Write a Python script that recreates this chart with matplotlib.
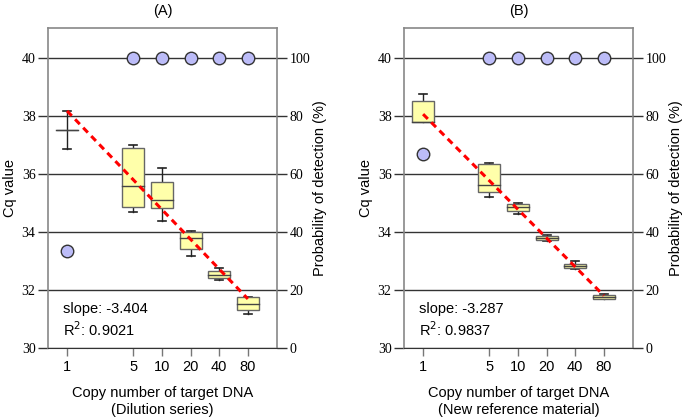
import matplotlib.pyplot as plt
from matplotlib.patches import Rectangle
from matplotlib.ticker import NullLocator

copies = [1, 5, 10, 20, 40, 80]
copy_labels = ["1", "5", "10", "20", "40", "80"]

# (A) dilution series: box stats per copy number
a_whislo = [36.86, 34.68, 34.39, 33.17, 32.34, 31.17]
a_q1 = [37.52, 34.85, 34.83, 33.40, 32.40, 31.31]
a_med = [37.52, 35.60, 35.10, 33.80, 32.52, 31.53]
a_q3 = [37.52, 36.89, 35.71, 33.99, 32.67, 31.75]
a_whishi = [38.18, 36.98, 36.20, 34.04, 32.77, 31.77]
a_detect = [33.3, 100, 100, 100, 100, 100]
a_slope, a_intercept, a_r2 = -3.404, 38.17, 0.9021

# (B) new reference material
b_whislo = [37.78, 35.22, 34.62, 33.70, 32.71, 31.68]
b_q1 = [37.78, 35.39, 34.73, 33.72, 32.75, 31.70]
b_med = [37.80, 35.61, 34.87, 33.80, 32.82, 31.77]
b_q3 = [38.53, 36.33, 34.97, 33.86, 32.89, 31.82]
b_whishi = [38.76, 36.37, 34.99, 33.88, 33.00, 31.85]
b_detect = [66.7, 100, 100, 100, 100, 100]
b_slope, b_intercept, b_r2 = -3.287, 38.06, 0.9837

cq_ticks = [30, 32, 34, 36, 38, 40]
prob_ticks = [0, 20, 40, 60, 80, 100]

SANS = "Liberation Sans"
SERIF = "Liberation Serif"

panels = [
    (0.0701, "(A)", "Copy number of target DNA\n(Dilution series)",
     a_whislo, a_q1, a_med, a_q3, a_whishi, a_detect, a_slope, a_intercept, a_r2),
    (0.5898, "(B)", "Copy number of target DNA\n(New reference material)",
     b_whislo, b_q1, b_med, b_q3, b_whishi, b_detect, b_slope, b_intercept, b_r2),
]

fig = plt.figure(figsize=(6.85, 4.19), dpi=100)

for (left, title, xlab, wlo, q1, med, q3, whi, detect,
     slope, intercept, r2) in panels:
    ax = fig.add_axes([left, 0.1695, 0.3343, 0.7637])
    ax.set_xscale("log")
    ax.set_xlim(0.63, 162)
    ax.set_ylim(30, 41.03)

    # boxes drawn symmetric in log space
    f_box = 10 ** (11 / 95)
    f_cap = 10 ** (4 / 95)
    for i, x in enumerate(copies):
        ax.plot([x, x], [wlo[i], whi[i]], color="#222222", lw=1.0, zorder=3)
        ax.plot([x / f_cap, x * f_cap], [wlo[i], wlo[i]], color="#222222", lw=1.2, zorder=3)
        ax.plot([x / f_cap, x * f_cap], [whi[i], whi[i]], color="#222222", lw=1.2, zorder=3)
        ax.add_patch(Rectangle((x / f_box, q1[i]), x * f_box - x / f_box, q3[i] - q1[i],
                               facecolor="#ffffaa", edgecolor="#666666", lw=1.0, zorder=4))
        ax.plot([x / f_box, x * f_box], [med[i], med[i]], color="#444444", lw=1.0, zorder=5)

    # regression line
    xs = [copies[0], copies[-1]]
    ys = [intercept + slope * 0, intercept + slope * 1.90309]
    ax.plot(xs, ys, color="red", lw=2.2, ls=(0, (2.2, 1.6)), zorder=6)

    ax.text(0.065, 0.122, f"slope: {slope}", transform=ax.transAxes,
            fontsize=10.5, family=SANS, va="center")
    ax.text(0.065, 0.058, f"R$^2$: {r2}", transform=ax.transAxes,
            fontsize=10.5, family=SANS, va="center")

    ax.set_yticks(cq_ticks)
    ax.set_yticklabels([str(t) for t in cq_ticks], family=SERIF, fontsize=10)
    ax.yaxis.grid(True, color="#333333", lw=1.0, zorder=1)
    ax.set_axisbelow(True)
    ax.tick_params(axis="y", length=7, width=1.0, color="#333333", pad=2)

    ax.set_xticks(copies)
    ax.set_xticklabels(copy_labels, family=SANS, fontsize=10.5)
    ax.xaxis.set_minor_locator(NullLocator())
    ax.tick_params(axis="x", length=6, width=1.0, color="#777777", pad=3)

    for s in ["left", "right", "top"]:
        ax.spines[s].set_color("#888888")
        ax.spines[s].set_linewidth(1.2)
    ax.spines["bottom"].set_color("#333333")

    ax.set_ylabel("Cq value", family=SANS, fontsize=10.5, labelpad=3)
    ax.set_xlabel(xlab, family=SANS, fontsize=10.5, labelpad=8, linespacing=1.3)
    ax.set_title(title, family=SANS, fontsize=10.5, pad=9)

    ax2 = ax.twinx()
    ax2.set_ylim(0, 110.3)
    ax2.set_yticks(prob_ticks)
    ax2.set_yticklabels([str(t) for t in prob_ticks], family=SERIF, fontsize=10)
    ax2.tick_params(axis="y", length=7, width=1.0, color="#333333", pad=2)
    ax2.plot(copies, detect, "o", ms=9, markerfacecolor="#bcbcf8",
             markeredgecolor="#333333", markeredgewidth=1.0, zorder=7, clip_on=False)
    for s in ["left", "right", "top", "bottom"]:
        ax2.spines[s].set_visible(False)
    ax2.set_ylabel("Probability of detection (%)", family=SANS, fontsize=10.5, labelpad=2)

fig.savefig("out.png", dpi=100)
